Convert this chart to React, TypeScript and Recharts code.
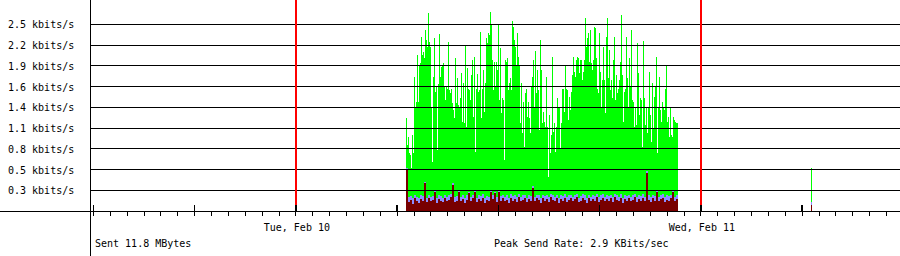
import React from 'react';
import { ComposedChart, Area, XAxis, YAxis, ReferenceLine } from 'recharts';

// ---- axis definitions ----
const yTicks = [0.2778, 0.5556, 0.8333, 1.1111, 1.3889, 1.6667, 1.9444, 2.2222, 2.5];
const yLabels = ['0.3 kbits/s', '0.5 kbits/s', '0.8 kbits/s', '1.1 kbits/s', '1.4 kbits/s', '1.6 kbits/s', '1.9 kbits/s', '2.2 kbits/s', '2.5 kbits/s'];
const hourTicks = Array.from({ length: 48 }, (_, i) => i - 12); // hours relative to Tue 00:00
const majorHours = [-12, -6, 0, 6, 12, 18, 24, 30];
const dayHours = [0, 24];
const dayLabels = ['Tue, Feb 10', 'Wed, Feb 11'];
const footerLeft = 'Sent 11.8 MBytes';
const footerRight = 'Peak Send Rate: 2.9 KBits/sec';

// ---- data (kbits/s) ----
const sampleStart = 6.52; // hour of first sample (Tue 06:31)
const sampleStep = 48 / 810; // hours per sample
const lateStart = 30.52; // lone sample on Wed morning

const sentRate = [
  1.24, 0.88, 0.99, 0.78, 0.75, 0.57, 1.02, 0.78, 1.79, 1.39,
  1.46, 2.09, 1.46, 1.95, 1.98, 2.33, 2.09, 2.13, 2.05, 2.42,
  2.29, 2.20, 2.65, 2.26, 2.19, 1.39, 0.66, 1.79, 2.31, 1.59,
  1.66, 0.82, 1.70, 2.37, 1.79, 1.93, 1.95, 1.98, 1.68, 1.48,
  1.66, 1.64, 2.26, 1.62, 1.58, 1.64, 1.44, 1.35, 1.24, 2.05,
  1.44, 1.78, 1.42, 1.39, 1.51, 1.85, 1.19, 1.72, 1.18, 2.22,
  1.12, 1.91, 1.64, 1.62, 1.48, 1.82, 2.02, 1.26, 2.06, 0.79,
  1.64, 1.83, 1.59, 1.62, 2.39, 1.24, 1.64, 1.89, 1.32, 1.71,
  2.31, 2.25, 2.38, 2.35, 2.67, 2.49, 2.02, 1.62, 1.99, 1.68,
  1.99, 1.89, 2.51, 1.48, 2.18, 1.31, 1.51, 1.48, 0.68, 2.02,
  1.99, 2.05, 1.62, 1.72, 1.78, 1.62, 2.55, 2.46, 2.29, 2.19,
  1.95, 2.38, 2.06, 1.95, 1.18, 1.71, 1.04, 1.46, 0.86, 1.58,
  1.64, 1.26, 1.46, 1.24, 1.04, 1.66, 1.79, 2.02, 1.39, 2.14,
  1.58, 1.89, 1.62, 1.08, 2.29, 1.89, 1.18, 1.32, 1.19, 1.12,
  1.80, 1.12, 0.45, 1.28, 0.78, 1.02, 2.06, 1.06, 1.18, 0.79,
  1.12, 1.51, 1.39, 1.38, 0.84, 1.18, 1.64, 1.64, 1.32, 1.94,
  1.64, 1.62, 1.22, 1.52, 1.35, 1.59, 1.82, 2.06, 1.86, 1.79,
  2.02, 2.06, 2.05, 1.85, 2.02, 2.02, 1.75, 1.86, 2.02, 2.59,
  2.19, 2.31, 2.38, 1.99, 2.42, 1.98, 1.89, 2.02, 2.46, 2.45,
  2.05, 1.64, 1.58, 2.38, 1.86, 1.38, 1.75, 2.19, 1.75, 1.31,
  2.33, 2.59, 1.78, 2.15, 1.62, 1.75, 1.51, 2.02, 2.33, 1.48,
  1.82, 1.58, 1.64, 1.75, 1.99, 2.62, 1.82, 1.19, 1.59, 1.64,
  2.33, 1.78, 1.38, 2.05, 1.68, 2.43, 1.48, 1.46, 1.12, 1.38,
  1.15, 2.25, 1.85, 1.28, 1.51, 1.48, 0.86, 2.27, 1.51, 1.15,
  1.39, 1.04, 1.39, 1.86, 1.28, 0.92, 1.71, 1.11, 1.52, 1.68,
  2.06, 0.78, 1.39, 1.80, 1.35, 1.19, 1.46, 1.38, 1.35, 1.64,
  1.95, 1.19, 1.26, 0.99, 1.38, 1.02, 0.99, 1.26, 1.22, 1.19,
  1.18, 1.18,
];

// lower layers, sampled every 2 steps
const lavenderTop = [
  0.57, 0.19, 0.20, 0.17, 0.21, 0.19, 0.18, 0.21, 0.20, 0.39,
  0.18, 0.22, 0.19, 0.20, 0.27, 0.18, 0.21, 0.20, 0.18, 0.22,
  0.19, 0.21, 0.23, 0.37, 0.19, 0.20, 0.27, 0.19, 0.21, 0.18,
  0.21, 0.26, 0.19, 0.22, 0.27, 0.18, 0.21, 0.20, 0.23, 0.18,
  0.20, 0.19, 0.27, 0.21, 0.26, 0.19, 0.27, 0.20, 0.22, 0.19,
  0.21, 0.18, 0.23, 0.20, 0.21, 0.19, 0.23, 0.19, 0.21, 0.22,
  0.18, 0.21, 0.20, 0.33, 0.19, 0.22, 0.21, 0.18, 0.22, 0.20,
  0.21, 0.19, 0.23, 0.21, 0.19, 0.22, 0.18, 0.21, 0.20, 0.23,
  0.19, 0.21, 0.22, 0.19, 0.21, 0.23, 0.18, 0.20, 0.23, 0.21,
  0.18, 0.22, 0.19, 0.21, 0.20, 0.23, 0.19, 0.21, 0.23, 0.19,
  0.21, 0.20, 0.22, 0.19, 0.23, 0.21, 0.19, 0.23, 0.18, 0.21,
  0.20, 0.22, 0.19, 0.21, 0.23, 0.19, 0.21, 0.20, 0.23, 0.19,
  0.53, 0.21, 0.19, 0.22, 0.20, 0.27, 0.19, 0.21, 0.23, 0.19,
  0.21, 0.20, 0.22, 0.27, 0.19, 0.21,
];
const maroonTop = [
  0.55, 0.12, 0.15, 0.10, 0.17, 0.13, 0.11, 0.16, 0.14, 0.37,
  0.12, 0.18, 0.13, 0.15, 0.25, 0.11, 0.16, 0.14, 0.12, 0.17,
  0.13, 0.15, 0.19, 0.35, 0.12, 0.14, 0.25, 0.13, 0.16, 0.11,
  0.15, 0.24, 0.13, 0.17, 0.25, 0.12, 0.16, 0.14, 0.18, 0.11,
  0.15, 0.13, 0.25, 0.16, 0.24, 0.12, 0.25, 0.14, 0.17, 0.13,
  0.15, 0.11, 0.18, 0.14, 0.16, 0.12, 0.19, 0.13, 0.15, 0.17,
  0.12, 0.16, 0.14, 0.31, 0.13, 0.18, 0.15, 0.11, 0.17, 0.14,
  0.16, 0.12, 0.19, 0.15, 0.13, 0.17, 0.11, 0.16, 0.14, 0.18,
  0.12, 0.15, 0.17, 0.13, 0.16, 0.19, 0.12, 0.14, 0.18, 0.15,
  0.11, 0.17, 0.13, 0.16, 0.14, 0.19, 0.12, 0.15, 0.18, 0.13,
  0.16, 0.14, 0.17, 0.12, 0.19, 0.15, 0.13, 0.18, 0.11, 0.16,
  0.14, 0.17, 0.13, 0.15, 0.19, 0.12, 0.16, 0.14, 0.18, 0.13,
  0.51, 0.15, 0.12, 0.17, 0.14, 0.25, 0.13, 0.16, 0.18, 0.12,
  0.15, 0.14, 0.17, 0.25, 0.13, 0.16,
];
const lateSent = [0.57];
const lateLavender = [0.12];
const lateMaroon = [0.08];

const X_DOMAIN: [number, number] = [-12.2, 35.8];
const Y_DOMAIN: [number, number] = [0, 2.825];
const FONT = '"DejaVu Sans Mono", monospace';
const GREEN = '#00ff00';
const LAVENDER = '#8c8cff';
const MAROON = '#780000';

const toSeries = (vals: number[], start: number, step: number) =>
  vals.map((v, i) => ({ t: start + i * step, v })).concat([{ t: start + vals.length * step, v: 0 }]);

const sentData = toSeries(sentRate, sampleStart, sampleStep);
const lavData = toSeries(lavenderTop, sampleStart, sampleStep * 2);
const marData = toSeries(maroonTop, sampleStart, sampleStep * 2);
const lateSentData = toSeries(lateSent, lateStart, sampleStep);
const lateLavData = toSeries(lateLavender, lateStart, sampleStep);
const lateMarData = toSeries(lateMaroon, lateStart, sampleStep);

const HourTick = (props: any) => {
  const { x, y, payload } = props;
  const h = payload.value as number;
  const di = dayHours.indexOf(h);
  return (
    <g>
      <line x1={x} x2={x} y1={y} y2={y + 5} stroke="#000" strokeWidth={1} />
      {di >= 0 && (
        <text x={x + 1} y={y + 20} textAnchor="middle" fontFamily={FONT} fontSize={10} fill="#000">
          {dayLabels[di]}
        </text>
      )}
    </g>
  );
};

const RateTick = (props: any) => {
  const { y, payload } = props;
  const i = yTicks.indexOf(payload.value);
  return (
    <text x={8} y={y + 4} textAnchor="start" fontFamily={FONT} fontSize={10} fill="#000">
      {yLabels[i]}
    </text>
  );
};

const areaProps = {
  type: 'stepAfter' as const,
  dataKey: 'v',
  stroke: 'none',
  fillOpacity: 1,
  isAnimationActive: false,
  dot: false,
  activeDot: false,
};

export default function App() {
  return (
    <div className="mrtg" style={{ position: 'absolute', left: 0, top: 0, width: 900, height: 256, background: '#fff' }}>
      <style>{`.mrtg svg path, .mrtg svg line { shape-rendering: crispEdges; }`}</style>
      <ComposedChart width={900} height={256} margin={{ top: 0, right: 0, bottom: 0, left: 0 }}>
        <XAxis
          type="number"
          dataKey="t"
          domain={X_DOMAIN}
          allowDataOverflow
          ticks={hourTicks}
          interval={0}
          height={45}
          tickSize={0}
          tickMargin={0}
          tickLine={false}
          axisLine={{ stroke: '#000' }}
          tick={<HourTick />}
        />
        <YAxis
          type="number"
          domain={Y_DOMAIN}
          allowDataOverflow
          ticks={yTicks}
          interval={0}
          width={90}
          tickLine={false}
          axisLine={{ stroke: '#000' }}
          tick={<RateTick />}
        />
        <Area {...areaProps} data={sentData} fill={GREEN} />
        <Area {...areaProps} data={lavData} fill={LAVENDER} />
        <Area {...areaProps} data={marData} fill={MAROON} />
        <Area {...areaProps} data={lateSentData} fill={GREEN} />
        <Area {...areaProps} data={lateLavData} fill={LAVENDER} />
        <Area {...areaProps} data={lateMarData} fill={MAROON} />
        {yTicks.map((v) => (
          <ReferenceLine key={'g' + v} y={v} stroke="#000" strokeWidth={1} ifOverflow="visible" />
        ))}
        {dayHours.map((h) => (
          <ReferenceLine key={'d' + h} x={h} stroke="#ff0000" strokeWidth={2} ifOverflow="visible" />
        ))}
        {majorHours.map((h) => (
          <ReferenceLine
            key={'m' + h}
            segment={[{ x: h, y: 0 }, { x: h, y: 0.08 }]}
            stroke="#000"
            strokeWidth={1.5}
            ifOverflow="visible"
          />
        ))}
        <ReferenceLine segment={[{ x: -17.6, y: 0 }, { x: -12.2, y: 0 }]} stroke="#000" ifOverflow="visible" />
        <ReferenceLine segment={[{ x: -12.2, y: -0.7 }, { x: -12.2, y: 0 }]} stroke="#000" ifOverflow="visible" />
      </ComposedChart>
      <svg width={900} height={256} style={{ position: 'absolute', left: 0, top: 0, pointerEvents: 'none' }}>
        <text x={95} y={247} fontFamily={FONT} fontSize={10} fill="#000">{footerLeft}</text>
        <text x={494} y={247} fontFamily={FONT} fontSize={10} fill="#000">{footerRight}</text>
      </svg>
    </div>
  );
}
